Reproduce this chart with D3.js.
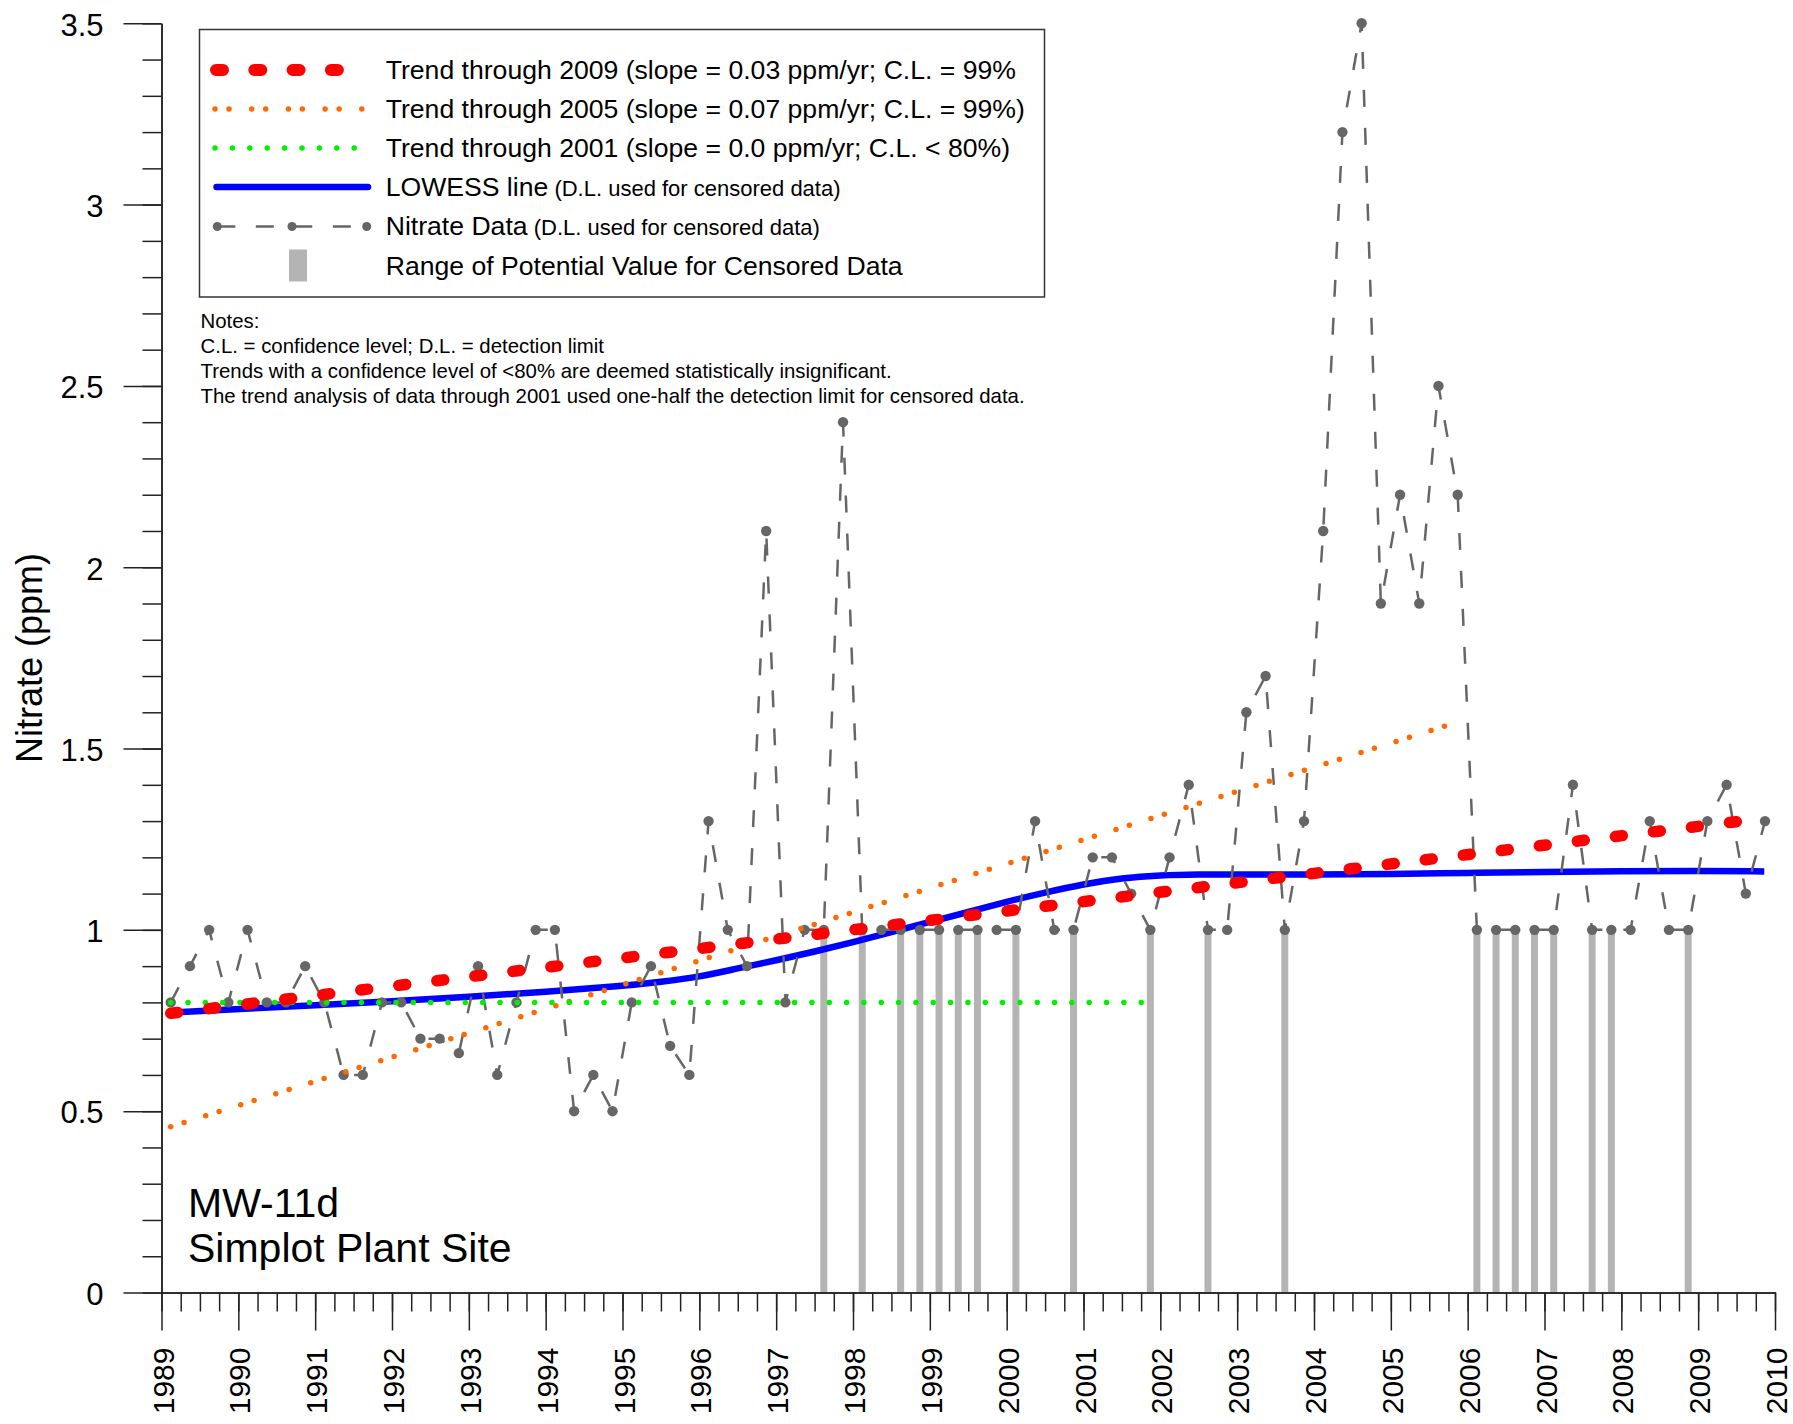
<!DOCTYPE html>
<html>
<head>
<meta charset="utf-8">
<script src="https://cdn.jsdelivr.net/npm/d3@7"></script>
<style>
  body { margin: 0; background: #fff; }
  text { font-family: "Liberation Sans", Arial, sans-serif; }
</style>
</head>
<body>
<div id="chart"></div>
<script>
// sample dates (decimal years, quarterly)
const dates = [
  1989.12, 1989.37, 1989.62, 1989.87, 1990.12, 1990.37, 1990.62, 1990.87,
  1991.12, 1991.37, 1991.62, 1991.87, 1992.12, 1992.37, 1992.62, 1992.87,
  1993.12, 1993.37, 1993.62, 1993.87, 1994.12, 1994.37, 1994.62, 1994.87,
  1995.12, 1995.37, 1995.62, 1995.87, 1996.12, 1996.37, 1996.62, 1996.87,
  1997.12, 1997.37, 1997.62, 1997.87, 1998.12, 1998.37, 1998.62, 1998.87,
  1999.12, 1999.37, 1999.62, 1999.87, 2000.12, 2000.37, 2000.62, 2000.87,
  2001.12, 2001.37, 2001.62, 2001.87, 2002.12, 2002.37, 2002.62, 2002.87,
  2003.12, 2003.37, 2003.62, 2003.87, 2004.12, 2004.37, 2004.62, 2004.87,
  2005.12, 2005.37, 2005.62, 2005.87, 2006.12, 2006.37, 2006.62, 2006.87,
  2007.12, 2007.37, 2007.62, 2007.87, 2008.12, 2008.37, 2008.62, 2008.87,
  2009.12, 2009.37, 2009.62, 2009.87
];
// nitrate (ppm), D.L. used for censored samples
const nitrate = [
  0.8, 0.9, 1.0, 0.8, 1.0, 0.8, 0.8, 0.9,
  0.8, 0.6, 0.6, 0.8, 0.8, 0.7, 0.7, 0.66,
  0.9, 0.6, 0.8, 1.0, 1.0, 0.5, 0.6, 0.5,
  0.8, 0.9, 0.68, 0.6, 1.3, 1.0, 0.9, 2.1,
  0.8, 1.0, 1.0, 2.4, 1.0, 1.0, 1.0, 1.0,
  1.0, 1.0, 1.0, 1.0, 1.0, 1.3, 1.0, 1.0,
  1.2, 1.2, 1.1, 1.0, 1.2, 1.4, 1.0, 1.0,
  1.6, 1.7, 1.0, 1.3, 2.1, 3.2, 3.5, 1.9,
  2.2, 1.9, 2.5, 2.2, 1.0, 1.0, 1.0, 1.0,
  1.0, 1.4, 1.0, 1.0, 1.0, 1.3, 1.0, 1.0,
  1.3, 1.4, 1.1, 1.3
];
// 1 = below detection limit
const censored = [
  0, 0, 0, 0, 0, 0, 0, 0,
  0, 0, 0, 0, 0, 0, 0, 0,
  0, 0, 0, 0, 0, 0, 0, 0,
  0, 0, 0, 0, 0, 0, 0, 0,
  0, 0, 1, 0, 1, 0, 1, 1,
  1, 1, 1, 0, 1, 0, 0, 1,
  0, 0, 0, 1, 0, 0, 1, 0,
  0, 0, 1, 0, 0, 0, 0, 0,
  0, 0, 0, 0, 1, 1, 1, 1,
  1, 0, 1, 1, 0, 0, 0, 1,
  0, 0, 0, 0
];

const lowessYears = [1989.12, 1990, 1991, 1992, 1993, 1994, 1995, 1995.5, 1996, 1996.5, 1997, 1997.5,
  1998, 1998.5, 1999, 1999.5, 2000, 2000.5, 2001, 2001.5, 2002, 2002.5, 2003, 2004, 2005, 2006,
  2007, 2008, 2009, 2009.86];
const lowessValues = [0.772, 0.782, 0.792, 0.803, 0.815, 0.829, 0.845, 0.857, 0.870, 0.894, 0.916, 0.940,
  0.966, 0.994, 1.022, 1.049, 1.078, 1.103, 1.126, 1.143, 1.151, 1.153, 1.153, 1.152, 1.154, 1.157,
  1.160, 1.162, 1.163, 1.161];

const trend2009Years = [1989.12, 2009.87], trend2009Values = [0.770, 1.308];
const trend2005Years = [1989.12, 2005.75], trend2005Values = [0.457, 1.565];
const trend2001Years = [1989.12, 2001.87], trend2001Values = [0.80, 0.80];

const yTicks = [0, 0.5, 1, 1.5, 2, 2.5, 3, 3.5];
const xTicks = [1989, 1990, 1991, 1992, 1993, 1994, 1995, 1996, 1997, 1998, 1999,
  2000, 2001, 2002, 2003, 2004, 2005, 2006, 2007, 2008, 2009, 2010];

const legendLabels = [
  "Trend through 2009 (slope = 0.03 ppm/yr; C.L. = 99%",
  "Trend through 2005 (slope = 0.07 ppm/yr; C.L. = 99%)",
  "Trend through 2001 (slope = 0.0 ppm/yr; C.L. < 80%)",
  "LOWESS line",
  "Nitrate Data",
  "Range of Potential Value for Censored Data"
];
const notes = [
  "Notes:",
  "C.L. = confidence level; D.L. = detection limit",
  "Trends with a confidence level of <80% are deemed statistically insignificant.",
  "The trend analysis of data through 2001 used one-half the detection limit for censored data."
];

const points = dates.map((d, i) => ({date: d, value: nitrate[i], censored: censored[i] === 1}));
const zip = (a, b) => a.map((v, i) => [v, b[i]]);

const svg = d3.select("#chart").append("svg")
  .attr("width", 1793).attr("height", 1424)
  .style("background", "#fff");

const x = d3.scaleLinear().domain([1989, 2010]).range([161.5, 1775]);
const y = d3.scaleLinear().domain([0, 3.5]).range([1292.5, 23.3]);

const line = d3.line().x(d => x(d[0])).y(d => y(d[1]));

// censored ranges
svg.append("g")
  .selectAll("line")
  .data(points.filter(d => d.censored))
  .join("line")
    .attr("x1", d => x(d.date)).attr("x2", d => x(d.date))
    .attr("y1", y(0)).attr("y2", d => y(d.value))
    .attr("stroke", "#b4b4b4").attr("stroke-width", 7);

// lowess
svg.append("path")
  .attr("d", d3.line().x(d => x(d[0])).y(d => y(d[1])).curve(d3.curveBasis)(zip(lowessYears, lowessValues)))
  .attr("fill", "none").attr("stroke", "#0000ff").attr("stroke-width", 6.5);

// nitrate data
svg.append("path")
  .attr("d", line(points.map(d => [d.date, d.value])))
  .attr("fill", "none").attr("stroke", "#666").attr("stroke-width", 2.5)
  .attr("stroke-dasharray", "17 21");

svg.append("g")
  .selectAll("circle")
  .data(points)
  .join("circle")
    .attr("cx", d => x(d.date)).attr("cy", d => y(d.value))
    .attr("r", 5.2).attr("fill", "#666");

// trends
svg.append("path")
  .attr("d", line(zip(trend2005Years, trend2005Values)))
  .attr("fill", "none").attr("stroke", "#ff6a00").attr("stroke-width", 5.5)
  .attr("stroke-linecap", "round").attr("stroke-dasharray", "0 14 0 22.7");

svg.append("path")
  .attr("d", line(zip(trend2001Years, trend2001Values)))
  .attr("fill", "none").attr("stroke", "#00f000").attr("stroke-width", 5.5)
  .attr("stroke-linecap", "round").attr("stroke-dasharray", "0 17.33");

svg.append("path")
  .attr("d", line(zip(trend2009Years, trend2009Values)))
  .attr("fill", "none").attr("stroke", "#ff0000").attr("stroke-width", 11.5)
  .attr("stroke-linecap", "round").attr("stroke-dasharray", "7 31.3");

// axes
function styleAxis(g) {
  g.attr("font-family", "Liberation Sans, Arial, sans-serif").attr("font-size", 31).attr("color", "#000");
  g.selectAll("path, line").attr("stroke-width", 1.5).attr("stroke", "#222");
}

svg.append("g").attr("transform", `translate(${x(1989)},0)`)
  .call(d3.axisLeft(y).tickValues(d3.range(0, 3.501, 0.1)).tickSize(19).tickSizeOuter(0).tickFormat(""))
  .call(styleAxis);
svg.append("g").attr("transform", `translate(${x(1989)},0)`)
  .call(d3.axisLeft(y).tickValues(yTicks).tickSize(38).tickSizeOuter(0).tickPadding(20).tickFormat(d => d))
  .call(styleAxis)
  .selectAll("text").attr("dy", "0.38em");

svg.append("g").attr("transform", `translate(0,${y(0)})`)
  .call(d3.axisBottom(x).tickValues(d3.range(1989, 2010.01, 0.25)).tickSize(19).tickSizeOuter(0).tickFormat(""))
  .call(styleAxis);
svg.append("g").attr("transform", `translate(0,${y(0)})`)
  .call(d3.axisBottom(x).tickValues(xTicks).tickSize(38).tickSizeOuter(0).tickFormat(d => d))
  .call(styleAxis)
  .selectAll("text")
    .attr("font-size", 30)
    .attr("transform", "rotate(-90)")
    .attr("x", -55).attr("y", 1).attr("dy", "0.35em")
    .attr("text-anchor", "end");

svg.append("text")
  .attr("transform", "translate(42,658) rotate(-90)")
  .attr("text-anchor", "middle")
  .attr("font-size", 36)
  .text("Nitrate (ppm)");

// legend
const lg = svg.append("g");
lg.append("rect")
  .attr("x", 199.5).attr("y", 29.5).attr("width", 845).attr("height", 267.5)
  .attr("fill", "none").attr("stroke", "#333").attr("stroke-width", 1.5);

const rowY = [70, 109, 148, 187, 226.5, 266];
lg.append("line").attr("x1", 216).attr("x2", 340).attr("y1", rowY[0]).attr("y2", rowY[0])
  .attr("stroke", "#ff0000").attr("stroke-width", 12).attr("stroke-linecap", "round")
  .attr("stroke-dasharray", "7 31.3");
lg.append("line").attr("x1", 215).attr("x2", 362).attr("y1", rowY[1]).attr("y2", rowY[1])
  .attr("stroke", "#ff6a00").attr("stroke-width", 5.5).attr("stroke-linecap", "round")
  .attr("stroke-dasharray", "0 14 0 22.7");
lg.append("line").attr("x1", 215).attr("x2", 355).attr("y1", rowY[2]).attr("y2", rowY[2])
  .attr("stroke", "#00f000").attr("stroke-width", 5.5).attr("stroke-linecap", "round")
  .attr("stroke-dasharray", "0 17.4");
lg.append("line").attr("x1", 216.5).attr("x2", 368).attr("y1", rowY[3]).attr("y2", rowY[3])
  .attr("stroke", "#0000ff").attr("stroke-width", 6.5).attr("stroke-linecap", "round");
lg.append("line").attr("x1", 217.3).attr("x2", 366.7).attr("y1", rowY[4]).attr("y2", rowY[4])
  .attr("stroke", "#666").attr("stroke-width", 2.5).attr("stroke-dasharray", "18 20.5");
lg.selectAll("circle.leg").data([217.3, 292, 366.7]).join("circle")
  .attr("cx", d => d).attr("cy", rowY[4]).attr("r", 4.5).attr("fill", "#666");
lg.append("rect").attr("x", 289).attr("y", 249.5).attr("width", 18).attr("height", 32)
  .attr("fill", "#b4b4b4");

const baselines = [79.3, 118.3, 157.3, 196.3, 235.3, 275];
legendLabels.forEach((t, i) => {
  const tx = lg.append("text").attr("x", 385.7).attr("y", baselines[i]).attr("font-size", 26.6).text(t);
  if (i === 3 || i === 4) {
    tx.append("tspan").attr("font-size", 22).text(" (D.L. used for censored data)");
  }
});

svg.append("g").selectAll("text").data(notes).join("text")
  .attr("x", 200.5).attr("y", (d, i) => 328.3 + i * 25)
  .attr("font-size", 20.4)
  .text(d => d);

svg.append("text").attr("x", 188).attr("y", 1217.3).attr("font-size", 41).text("MW-11d");
svg.append("text").attr("x", 188).attr("y", 1261.7).attr("font-size", 41).text("Simplot Plant Site");
</script>
</body>
</html>
